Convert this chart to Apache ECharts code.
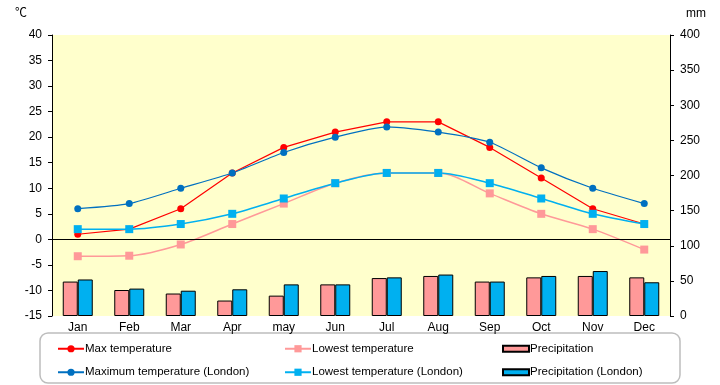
<!DOCTYPE html>
<html><head><meta charset="utf-8">
<script src="https://cdn.jsdelivr.net/npm/echarts@6/dist/echarts.min.js"></script>
<style>html,body{margin:0;padding:0;background:#fff}#c{width:720px;height:385px}</style>
</head><body><div id="c"></div>
<script>
var months = ['Jan','Feb','Mar','Apr','may','Jun','Jul','Aug','Sep','Oct','Nov','Dec'];
var maxTemp = [1, 2, 6, 13, 18, 21, 23, 23, 18, 12, 6, 3];
var lowTemp = [-3.3, -3.2, -1, 3, 7, 11, 13, 13, 9, 5, 2, -2];
var maxLondon = [6, 7, 10, 13, 17, 20, 22, 21, 19, 14, 10, 7];
var lowLondon = [2, 2, 3, 5, 8, 11, 13, 13, 11, 8, 5, 3];
var precip = [49, 37, 32, 22, 29, 45, 54, 57, 49, 55, 57, 55];
var precipLondon = [52, 39, 36, 38, 45, 45, 55, 59, 49, 57, 64, 48];

var FONT = '"Liberation Sans", "Noto Sans CJK JP", sans-serif';
var chart = echarts.init(document.getElementById('c'));
var legendBase = {
  orient: 'vertical', top: 338, itemWidth: 26, itemHeight: 9, itemGap: 12,
  textStyle: {fontFamily: FONT, fontSize: 11.5, color: '#000', padding: [0,0,0,-4]},
  selectedMode: false
};
chart.setOption({
  animation: false,
  textStyle: {fontFamily: FONT},
  grid: {left: 52, right: 50, top: 35, bottom: 69, show: true, backgroundColor: '#FFFFCC', borderWidth: 0},
  graphic: [
    {type: 'text', left: 15, top: 8, style: {text: '℃', font: '12px ' + FONT, fill: '#000'}},
    {type: 'text', left: 686, top: 8, style: {text: 'mm', font: '12px ' + FONT, fill: '#000'}},
    {type: 'rect', shape: {x: 40, y: 333, width: 640, height: 50, r: 8}, style: {fill: 'none', stroke: '#bdbdbd', lineWidth: 1.5}, z: -1}
  ],
  legend: [
    Object.assign({}, legendBase, {left: 52, data: ['Max temperature', 'Maximum temperature (London)']}),
    Object.assign({}, legendBase, {left: 279, data: ['Lowest temperature', 'Lowest temperature (London)']}),
    Object.assign({}, legendBase, {left: 497, data: [{name: 'Precipitation', icon: 'rect'}, {name: 'Precipitation (London)', icon: 'rect'}], itemHeight: 6, itemGap: 12})
  ],
  xAxis: {
    type: 'category', data: months,
    axisLine: {show: false}, axisTick: {show: false},
    axisLabel: {color: '#000', fontSize: 12, margin: 6, fontFamily: FONT}
  },
  yAxis: [
    {type: 'value', min: -15, max: 40, interval: 5, position: 'left',
     axisLine: {show: true, lineStyle: {color: '#000'}},
     axisTick: {show: true, length: 4, lineStyle: {color: '#000'}},
     splitLine: {show: false},
     axisLabel: {color: '#000', fontSize: 12, margin: 10, fontFamily: FONT}},
    {type: 'value', min: 0, max: 400, interval: 50, position: 'right',
     axisLine: {show: true, lineStyle: {color: '#000'}},
     axisTick: {show: true, length: 4, lineStyle: {color: '#000'}},
     splitLine: {show: false},
     axisLabel: {color: '#000', fontSize: 12, margin: 10, fontFamily: FONT}}
  ],
  series: [
    {name: 'Precipitation', type: 'bar', yAxisIndex: 1, data: precip, barWidth: 15, barGap: '0%',
     itemStyle: {color: '#FF9999', borderColor: '#000', borderWidth: 1}},
    {name: 'Precipitation (London)', type: 'bar', yAxisIndex: 1, data: precipLondon, barWidth: 15, barGap: '0%',
     itemStyle: {color: '#00B0F0', borderColor: '#000', borderWidth: 1}},
    {name: 'Max temperature', type: 'line', data: maxTemp, symbol: 'circle', symbolSize: 7,
     itemStyle: {color: '#FF0000'}, lineStyle: {color: '#FF0000', width: 1.2},
     markLine: {silent: true, symbol: 'none', label: {show: false}, lineStyle: {color: '#000', type: 'solid', width: 1},
       data: [{yAxis: 0}]}},
    {name: 'Lowest temperature', type: 'line', data: lowTemp, symbol: 'rect', symbolSize: 8, smooth: 0.3,
     itemStyle: {color: '#FF9999'}, lineStyle: {color: '#FF9999', width: 1.5}},
    {name: 'Maximum temperature (London)', type: 'line', data: maxLondon, symbol: 'circle', symbolSize: 7, smooth: 0.2,
     itemStyle: {color: '#0070C0'}, lineStyle: {color: '#0070C0', width: 1.2}},
    {name: 'Lowest temperature (London)', type: 'line', data: lowLondon, symbol: 'rect', symbolSize: 8, smooth: 0.3,
     itemStyle: {color: '#00B0F0'}, lineStyle: {color: '#00B0F0', width: 1.5}}
  ]
});
</script></body></html>
